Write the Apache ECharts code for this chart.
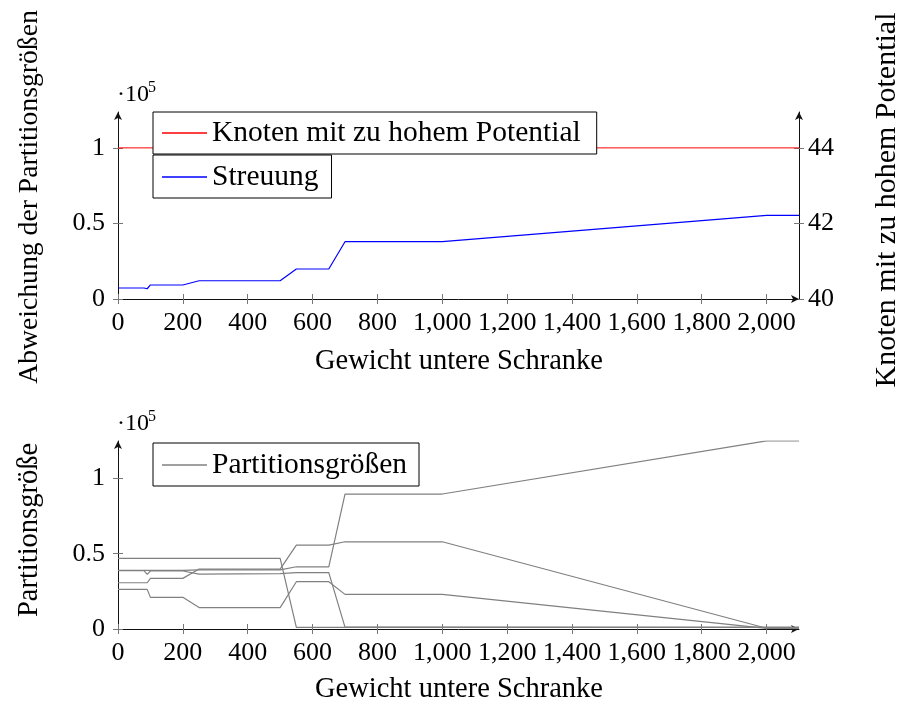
<!DOCTYPE html>
<html><head><meta charset="utf-8">
<script src="https://cdn.jsdelivr.net/npm/echarts@6/dist/echarts.min.js"></script>
<style>html,body{margin:0;padding:0;background:#fff}#c{width:903px;height:705px}</style>
</head><body><div id="c"></div>
<script>
// ---- data ----
const xTickValues = [0, 200, 400, 600, 800, 1000, 1200, 1400, 1600, 1800, 2000];
const yTickValues = [0, 50000, 100000];
const rightTickValues = [40, 42, 44];

const knotenX = [0, 2100];
const knotenY = [44, 44];

const streuungX = [0, 80, 90, 100, 200, 250, 500, 550, 650, 700, 1000, 2000, 2100];
const streuungY = [7300, 7300, 6800, 9300, 9300, 12100, 12100, 19900, 19900, 38000, 38000, 55500, 55500];

const partX = [0, 80, 90, 100, 200, 250, 500, 550, 650, 700, 1000, 2000, 2100];
const part1 = [46900, 46900, 46900, 46900, 46900, 46900, 46900, 1100, 1100, 1100, 1100, 1000, 1000];
const part2 = [26300, 26300, 26300, 21000, 21000, 14200, 14200, 31400, 31400, 23000, 23000, 400, 400];
const part3 = [38700, 38700, 36300, 38500, 38500, 36400, 36700, 37400, 37400, 1200, 1200, 1200, 1200];
const part4 = [38900, 38900, 38900, 38900, 38900, 39200, 39200, 41300, 41300, 89600, 89600, 124900, 124900];
const part5 = [30700, 30700, 30700, 33600, 33600, 39800, 39800, 55700, 55700, 57900, 57900, 500, 500];

const zip = (xs, ys) => xs.map((x, i) => [x, ys[i]]);

// ---- styles ----
const FONT = "'Liberation Serif', 'DejaVu Serif', serif";
const TICK = '#777';
const AXIS = '#111';

const fmtX = v => v >= 1000 ? Math.floor(v / 1000) + ',' + String(v % 1000).padStart(3, '0') : String(v);
const fmtY = v => String(v / 100000);

function xAxesFor(gridIndex) {
  const base = { type: 'value', gridIndex, min: 0, max: 2100, position: 'bottom', splitLine: { show: false } };
  return [
    Object.assign({}, base, {
      axisLine: { show: true, lineStyle: { color: AXIS, width: 1 }, symbol: ['none', 'arrow'], symbolSize: [6, 8] },
      axisTick: { show: true, length: 5, lineStyle: { color: TICK }, customValues: xTickValues },
      axisLabel: { show: true, margin: 11, fontFamily: FONT, fontSize: 26, color: '#000', formatter: fmtX, customValues: xTickValues }
    }),
    Object.assign({}, base, {
      axisLine: { show: false },
      axisTick: { show: true, inside: true, length: 5, lineStyle: { color: TICK }, customValues: xTickValues },
      axisLabel: { show: false }
    })
  ];
}
function yAxesFor(gridIndex, pos, min, max, ticks, fmt, margin) {
  const base = { type: 'value', gridIndex, min, max, position: pos, splitLine: { show: false } };
  return [
    Object.assign({}, base, {
      axisLine: { show: true, onZero: false, lineStyle: { color: AXIS, width: 1 }, symbol: ['none', 'arrow'], symbolSize: [6, 8] },
      axisTick: { show: true, length: 5, lineStyle: { color: TICK }, customValues: ticks },
      axisLabel: { show: true, margin, fontFamily: FONT, fontSize: 26, color: '#000', formatter: fmt, customValues: ticks }
    }),
    Object.assign({}, base, {
      axisLine: { show: false, onZero: false },
      axisTick: { show: true, inside: true, length: 5, lineStyle: { color: TICK }, customValues: ticks },
      axisLabel: { show: false }
    })
  ];
}

const legendBase = {
  orient: 'vertical', left: 153, itemWidth: 45, itemHeight: 1.3, itemGap: 0, icon: 'rect',
  borderColor: '#000', borderWidth: 1, backgroundColor: '#fff', borderRadius: 0,
  selectedMode: false,
  textStyle: { fontFamily: FONT, fontSize: 29.5, color: '#000' }
};

const option = {
  animation: false,
  backgroundColor: '#fff',
  grid: [
    { left: 118, top: 112, width: 681, height: 187 },
    { left: 118, top: 441, width: 681, height: 188 }
  ],
  xAxis: [].concat(xAxesFor(0), xAxesFor(1)),
  yAxis: [].concat(
    yAxesFor(0, 'left', 0, 124000, yTickValues, fmtY, 13),
    yAxesFor(0, 'right', 40, 44.95, rightTickValues, v => String(v), 9),
    yAxesFor(1, 'left', 0, 124800, yTickValues, fmtY, 13)
  ),
  legend: [
    Object.assign({}, legendBase, { data: ['Knoten mit zu hohem Potential'], top: 112, padding: [6, 16, 6, 9] }),
    Object.assign({}, legendBase, { data: ['Streuung'], top: 155, padding: [7, 13, 6, 9] }),
    Object.assign({}, legendBase, { data: ['Partitionsgrößen'], top: 443, padding: [7, 12, 6, 9] })
  ],
  series: [
    { name: 'Knoten mit zu hohem Potential', type: 'line', xAxisIndex: 0, yAxisIndex: 2, symbol: 'none',
      lineStyle: { color: '#ff0000', width: 1 }, itemStyle: { color: '#ff0000' }, data: zip(knotenX, knotenY) },
    { name: 'Streuung', type: 'line', xAxisIndex: 0, yAxisIndex: 0, symbol: 'none',
      lineStyle: { color: '#0000ff', width: 1.2 }, itemStyle: { color: '#0000ff' }, data: zip(streuungX, streuungY) },
    ...[part1, part2, part3, part4, part5].map((p, i) => ({
      name: i === 0 ? 'Partitionsgrößen' : 'Partition ' + (i + 1), type: 'line', xAxisIndex: 2, yAxisIndex: 4, symbol: 'none',
      lineStyle: { color: '#808080', width: 1.2 }, itemStyle: { color: '#808080' }, data: zip(partX, p)
    }))
  ],
  graphic: [
    { type: 'text', x: 117, y: 95, style: { text: '·10', fontFamily: FONT, fontSize: 24, fill: '#000', textAlign: 'left', textVerticalAlign: 'middle' } },
    { type: 'text', x: 148, y: 88, style: { text: '5', fontFamily: FONT, fontSize: 16, fill: '#000', textAlign: 'left', textVerticalAlign: 'middle' } },
    { type: 'text', x: 117, y: 424, style: { text: '·10', fontFamily: FONT, fontSize: 24, fill: '#000', textAlign: 'left', textVerticalAlign: 'middle' } },
    { type: 'text', x: 148, y: 417, style: { text: '5', fontFamily: FONT, fontSize: 16, fill: '#000', textAlign: 'left', textVerticalAlign: 'middle' } },
    { type: 'text', x: 459, y: 362, style: { text: 'Gewicht untere Schranke', fontFamily: FONT, fontSize: 28.5, fill: '#000', textAlign: 'center', textVerticalAlign: 'middle' } },
    { type: 'text', x: 459, y: 690, style: { text: 'Gewicht untere Schranke', fontFamily: FONT, fontSize: 28.5, fill: '#000', textAlign: 'center', textVerticalAlign: 'middle' } },
    { type: 'text', x: 30, y: 197, rotation: Math.PI / 2, style: { text: 'Abweichung der Partitionsgrößen', fontFamily: FONT, fontSize: 27.7, fill: '#000', textAlign: 'center', textVerticalAlign: 'middle' } },
    { type: 'text', x: 887, y: 200, rotation: Math.PI / 2, style: { text: 'Knoten mit zu hohem Potential', fontFamily: FONT, fontSize: 30, fill: '#000', textAlign: 'center', textVerticalAlign: 'middle' } },
    { type: 'text', x: 30, y: 530, rotation: Math.PI / 2, style: { text: 'Partitionsgröße', fontFamily: FONT, fontSize: 28.5, fill: '#000', textAlign: 'center', textVerticalAlign: 'middle' } }
  ]
};

const chart = echarts.init(document.getElementById('c'), null, { renderer: 'canvas' });
chart.setOption(option);
</script>
</body></html>
